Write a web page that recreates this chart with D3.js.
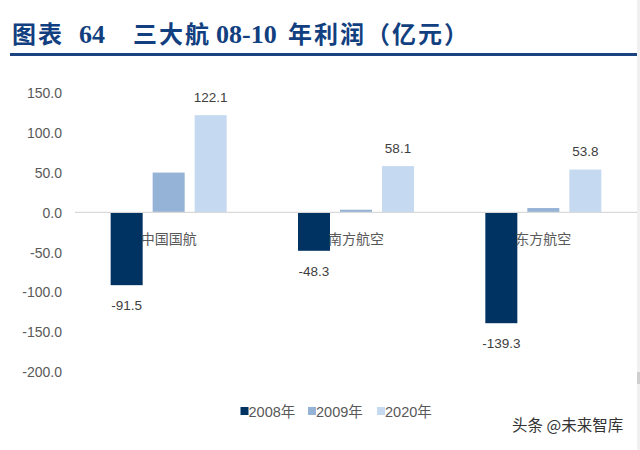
<!DOCTYPE html>
<html><head><meta charset="utf-8">
<script src="https://cdn.jsdelivr.net/npm/d3@7"></script>
<style>
html,body{margin:0;padding:0;background:#fff;}
svg{display:block;}
</style>
</head><body>
<svg id="chart" width="640" height="450"></svg>
<script>
const categories = ["中国国航", "南方航空", "东方航空"];
const seriesNames = ["2008年", "2009年", "2020年"];
const v2008 = [-91.5, -48.3, -139.3];
const v2009 = [50.0, 3.3, 5.4];
const v2020 = [122.1, 58.1, 53.8];
const yTicks = [150, 100, 50, 0, -50, -100, -150, -200];
const colors = ["#003262", "#95b3d7", "#c5d9f1"];
const labeledSeries = ["2008年", "2020年"];

const seriesValues = [v2008, v2009, v2020];
const data = categories.map((c, i) => ({
  cat: c,
  vals: seriesNames.map((s, k) => ({ s, v: seriesValues[k][i] }))
}));

const fmt = d => d3.format(".1f")(d).replace("\u2212", "-");

const svg = d3.select("#chart");
const textColor = "#595959";

// right edge artifact
svg.append("rect").attr("x", 637).attr("y", 0).attr("width", 3).attr("height", 450).attr("fill", "#f0f0f0");
svg.append("rect").attr("x", 637).attr("y", 372).attr("width", 3).attr("height", 12).attr("fill", "#cfcfcf");

// Title
const title = svg.append("text")
  .attr("y", 43)
  .attr("fill", "#123f80")
  .attr("font-weight", "bold")
  .attr("font-size", 24);
const parts = [
  { t: "图表", x: 12, f: "'Noto Sans CJK SC', sans-serif", ls: 2 },
  { t: "64", x: 79, f: "'Liberation Serif', serif", ls: 0, fs: 26 },
  { t: "三大航", x: 133, f: "'Noto Sans CJK SC', sans-serif", ls: 2 },
  { t: "08-10", x: 216, f: "'Liberation Serif', serif", ls: 0, fs: 26 },
  { t: "年利润（亿元）", x: 288, f: "'Noto Sans CJK SC', sans-serif", ls: 2 }
];
parts.forEach(p => {
  title.append("tspan").attr("x", p.x).attr("font-family", p.f)
    .attr("letter-spacing", p.ls).attr("font-size", p.fs || 24).text(p.t);
});
svg.append("rect").attr("x", 10).attr("y", 53).attr("width", 627).attr("height", 3).attr("fill", "#1b437f");

// Scales
const y = d3.scaleLinear().domain([-200, 150]).range([371.5, 93]);
const x0 = d3.scaleBand().domain(categories).range([75, 637]).padding(0);
const groupW = 126;
const x1 = d3.scaleBand().domain(seriesNames).range([0, groupW]).paddingInner(0.238).paddingOuter(0.119);

// Y axis labels
const yAxis = d3.axisLeft(y).tickValues(yTicks).tickFormat(fmt).tickSize(0).tickPadding(0);
const gy = svg.append("g").attr("transform", "translate(62,0)").call(yAxis);
gy.select(".domain").remove();
gy.selectAll("text").attr("font-family", "'Liberation Sans', Arial, sans-serif")
  .attr("font-size", 14).attr("fill", textColor).attr("dy", "0.35em");

// Bars
const groups = svg.append("g").selectAll("g").data(data).join("g")
  .attr("transform", d => `translate(${x0(d.cat) + x0.bandwidth() / 2 - groupW / 2},0)`);
groups.selectAll("rect").data(d => d.vals).join("rect")
  .attr("x", d => x1(d.s))
  .attr("width", x1.bandwidth())
  .attr("y", d => y(Math.max(0, d.v)))
  .attr("height", d => Math.abs(y(d.v) - y(0)))
  .attr("fill", d => colors[seriesNames.indexOf(d.s)]);

// zero axis line
svg.append("line").attr("x1", 75).attr("x2", 637).attr("y1", y(0)).attr("y2", y(0))
  .attr("stroke", "#d9d9d9").attr("stroke-width", 1.2);

// Value labels
groups.selectAll("text.val").data(d => d.vals.filter(v => labeledSeries.includes(v.s))).join("text")
  .attr("class", "val")
  .attr("x", d => x1(d.s) + x1.bandwidth() / 2)
  .attr("y", d => d.v < 0 ? y(d.v) + 20 : y(d.v) - 18)
  .attr("dy", "0.35em")
  .attr("text-anchor", "middle")
  .attr("font-family", "'Liberation Sans', Arial, sans-serif")
  .attr("font-size", 13.5)
  .attr("fill", "#404040")
  .text(d => fmt(d.v));

// Category labels
svg.append("g").selectAll("text").data(categories).join("text")
  .attr("x", d => x0(d) + x0.bandwidth() / 2)
  .attr("y", y(0) + 27)
  .attr("dy", "0.35em")
  .attr("text-anchor", "middle")
  .attr("font-family", "'Noto Sans CJK SC', sans-serif")
  .attr("font-size", 14)
  .attr("fill", textColor)
  .text(d => d);

// Legend
const legendX = [240.5, 308, 377];
const lg = svg.append("g").selectAll("g").data(seriesNames).join("g")
  .attr("transform", (d, i) => `translate(${legendX[i]},407)`);
lg.append("rect").attr("width", 8).attr("height", 8).attr("fill", (d, i) => colors[i]);
lg.append("text").attr("x", 8).attr("y", 4.5).attr("dy", "0.35em")
  .attr("font-family", "'Liberation Sans', 'Noto Sans CJK SC', sans-serif")
  .attr("font-size", 14.5).attr("fill", textColor).text(d => d);

// watermark
svg.append("text").attr("x", 512).attr("y", 426).attr("dy", "0.35em")
  .attr("font-family", "'Noto Sans CJK SC', sans-serif")
  .attr("font-size", 15.5).attr("fill", "#333").text("头条 @未来智库");
</script>
</body></html>
